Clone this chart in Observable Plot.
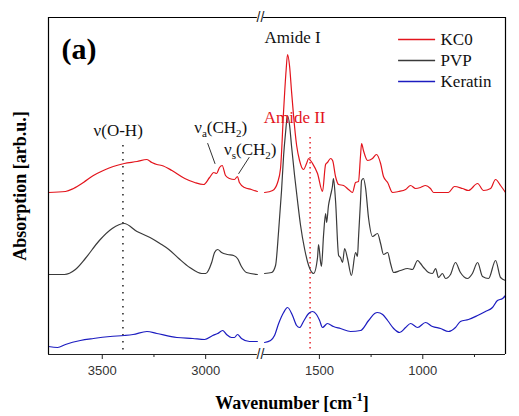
<!DOCTYPE html>
<html><head><meta charset="utf-8">
<script src="https://cdn.jsdelivr.net/npm/d3@7"></script>
<script src="https://cdn.jsdelivr.net/npm/@observablehq/plot@0.6"></script>
<style>body{margin:0;background:#fff}</style>
</head><body><div id="chart"></div>
<script>
// [wavenumber cm-1, absorption (arb. u.)]
const kc0 = [
[3760,162],[3678,163],[3639,166],[3591,172],[3543,179],[3495,184],[3447,188],[3394,191],[3332,193],[3284,195],[3260,192],[3236,190],[3212,189],[3163,184],[3101,176],[3053,172],[3010,170],[2981,177],[2961,182],[2947,181],[2933,187],[2920,189],[2904,179],[2885,176],[2861,175],[2846,178],[2837,172],[2812,167],[2779,165],[2750,163],
[1765,162],[1726,164],[1702,172],[1688,186],[1673,244],[1661,284],[1654,300],[1644,288],[1635,264],[1625,239],[1610,209],[1596,194],[1577,185],[1562,191],[1552,196],[1543,194],[1533,191],[1509,181],[1485,163],[1470,190],[1461,192],[1446,196],[1436,194],[1422,178],[1407,170],[1383,169],[1359,165],[1340,162],[1325,172],[1311,173],[1301,199],[1296,211],[1287,204],[1267,194],[1243,196],[1224,200],[1204,191],[1190,178],[1170,172],[1146,162],[1117,163],[1083,165],[1059,169],[1035,166],[1011,167],[987,169],[963,166],[948,162],[914,162],[876,162],[847,168],[808,166],[779,164],[735,171],[706,164],[672,166],[648,175],[624,169],[600,162]
];
const pvp = [
[3760,80],[3683,80],[3630,85],[3582,96],[3514,114],[3452,126],[3394,131],[3332,123],[3269,117],[3221,111],[3178,105],[3130,96],[3077,87],[3019,81],[3000,81],[2971,92],[2957,102],[2942,105],[2923,102],[2894,100],[2865,99],[2846,96],[2827,88],[2803,82],[2750,80],
[1765,81],[1731,82],[1712,89],[1697,124],[1683,164],[1673,199],[1664,221],[1654,239],[1644,229],[1635,209],[1620,179],[1606,154],[1591,129],[1572,106],[1552,89],[1528,81],[1509,97],[1504,110],[1494,92],[1490,88],[1480,119],[1470,141],[1465,132],[1456,149],[1446,159],[1437,168],[1432,176],[1422,154],[1407,99],[1398,97],[1388,92],[1378,106],[1364,96],[1345,79],[1325,102],[1316,98],[1311,116],[1301,154],[1296,174],[1287,176],[1277,167],[1262,136],[1243,118],[1219,121],[1204,111],[1190,100],[1170,102],[1156,91],[1141,82],[1108,84],[1074,86],[1050,85],[1025,94],[1011,91],[996,87],[972,82],[953,81],[938,86],[924,77],[905,81],[890,76],[866,80],[842,92],[818,82],[784,76],[760,81],[735,92],[711,78],[682,76],[648,94],[624,77],[600,74]
];
const keratin = [
[3760,8],[3716,7],[3678,10],[3606,14],[3543,16],[3462,18],[3394,19],[3351,20],[3284,23],[3236,21],[3139,17],[3062,16],[3005,15],[2966,19],[2942,21],[2918,24],[2899,20],[2875,17],[2861,17],[2846,20],[2827,16],[2788,13],[2750,13],
[1765,12],[1736,14],[1717,19],[1697,31],[1673,42],[1654,47],[1630,39],[1610,29],[1596,27],[1577,33],[1552,41],[1533,43],[1514,40],[1499,34],[1485,27],[1461,31],[1432,28],[1398,26],[1349,23],[1301,24],[1262,34],[1233,41],[1219,42],[1194,40],[1170,34],[1141,26],[1112,22],[1083,27],[1059,31],[1025,27],[987,32],[953,28],[914,26],[876,23],[842,27],[818,33],[779,35],[735,39],[697,43],[663,47],[639,54],[614,56],[600,59]
];
const seriesNames = ["KC0", "PVP", "Keratin"];
const seriesColors = ["#e3141c", "#3a3a3a", "#1c1cc0"];
const majorTicks = [3500, 3000, 1500, 1000];
const minorTicks = [3250, 1250, 750];
// broken axis: high-wavenumber segment 3760–2750, low-wavenumber segment 1770–600
const hiSeg = [3760, 2750], loSeg = [1770, 600], gapUnits = 30;
const yMax = 337;

// fold the two wavenumber segments onto one continuous coordinate
const pos = w => w > 2000 ? hiSeg[0] - w : (hiSeg[0] - hiSeg[1]) + gapUnits + (loSeg[0] - w);
const xMax = pos(loSeg[1]);
const breakPos = (hiSeg[0] - hiSeg[1]) + gapUnits / 2;

const rows = [];
[kc0, pvp, keratin].forEach((arr, i) => arr.forEach(([wn, abs]) =>
  rows.push({series: seriesNames[i], seg: wn > 2000 ? "hi" : "lo", x: pos(wn), abs})));

const frameSegs = [hiSeg, loSeg].map(([a, b]) => ({x1: pos(a), x2: pos(b)}));
const ohGuide = [{wn: 3400, from: 209, to: 4}];
const amideGuide = [{wn: 1545, from: 217, to: 4}];
const labels = [
  {text: "ν(O-H)", wn: 3423, abs: 219, anchor: "middle", color: "#111"},
  {text: "Amide I", wn: 1630, abs: 312, anchor: "middle", color: "#111"},
  {text: "Amide II", wn: 1620, abs: 232, anchor: "start", color: "#e3141c"}
];
const arrows = [
  {w1: 2990, y1: 211, w2: 2955, y2: 191, bend: -60},
  {w1: 2790, y1: 197, w2: 2840, y2: 181, bend: 60}
];
const legendItems = seriesNames.map((s, i) => ({s, w1: 1117, w2: 938, tw: 914, y: [315, 294, 273][i]}));
const tickLabel = new Map(majorTicks.map(t => [pos(t), String(t)]));

const plot = Plot.plot({
  width: 519, height: 416,
  marginTop: 17, marginBottom: 62, marginLeft: 48, marginRight: 14,
  style: {background: "#fff", color: "#111", fontFamily: "Liberation Sans"},
  x: {domain: [0, xMax]},
  y: {domain: [0, yMax], axis: null},
  color: {domain: seriesNames, range: seriesColors},
  marks: [
    Plot.ruleX(ohGuide, {x: d => pos(d.wn), y1: "from", y2: "to", stroke: "#111", strokeWidth: 1.4, strokeDasharray: "1.5,5.5"}),
    Plot.ruleX(amideGuide, {x: d => pos(d.wn), y1: "from", y2: "to", stroke: "#e3141c", strokeWidth: 1.4, strokeDasharray: "1.5,3.5"}),
    Plot.line(rows, {x: "x", y: "abs", z: d => d.series + d.seg, stroke: "series", strokeWidth: 1.2, curve: "monotone-x"}),
    Plot.ruleY(frameSegs, {x1: "x1", x2: "x2", y: () => yMax, stroke: "#000", strokeWidth: 1.2}),
    Plot.ruleY(frameSegs, {x1: "x1", x2: "x2", y: () => 0, stroke: "#222", strokeWidth: 1.2}),
    Plot.ruleX([0, xMax], {y1: 0, y2: yMax, stroke: "#000", strokeWidth: 1.2}),
    Plot.text(["//"], {x: () => breakPos, y: () => yMax, fontSize: 14, fill: "#222"}),
    Plot.text(["//"], {x: () => breakPos, y: () => 0, fontSize: 14, fill: "#222"}),
    Plot.axisX({ticks: majorTicks.map(pos), tickFormat: p => tickLabel.get(p), tickSize: 5, tickPadding: 6, fontSize: 13, label: null, stroke: "#222", fill: "#333"}),
    Plot.axisX({ticks: minorTicks.map(pos), tickSize: 3, tickFormat: () => "", label: null, stroke: "#222"}),
    Plot.text(labels, {x: d => pos(d.wn), y: "abs", text: "text", textAnchor: "anchor", fill: "color", lineAnchor: "bottom", fontSize: 17, fontFamily: "Liberation Serif"}),
    Plot.arrow(arrows, {x1: d => pos(d.w1), y1: "y1", x2: d => pos(d.w2), y2: "y2", bend: "bend", stroke: "#333", strokeWidth: 1, headLength: 7, headAngle: 50}),
    Plot.ruleY(legendItems, {x1: d => pos(d.w1), x2: d => pos(d.w2), y: "y", stroke: "s", strokeWidth: 1.3}),
    Plot.text(legendItems, {x: d => pos(d.tw), y: "y", text: "s", textAnchor: "start", fontSize: 17, fontFamily: "Liberation Serif", fill: "#111"}),
    Plot.text(["(a)"], {x: () => pos(3697), y: () => 296, textAnchor: "start", lineAnchor: "bottom", fontSize: 30, fontWeight: "bold", fontFamily: "Liberation Serif", fill: "#000"}),
    Plot.text(["Absorption [arb.u.]"], {frameAnchor: "left", dx: -23, rotate: -90, textAnchor: "middle", lineAnchor: "bottom", fontSize: 18, fontWeight: "bold", fontFamily: "Liberation Serif", fill: "#000"})
  ]
});
document.getElementById("chart").appendChild(plot);

const sx = plot.scale("x"), sy = plot.scale("y");
const svg = d3.select(plot);
function richText(parts, x, y, opts) {
  const t = svg.append("text").attr("x", x).attr("y", y)
    .attr("font-family", "Liberation Serif").attr("font-size", opts.size)
    .attr("font-weight", opts.weight || "normal").attr("fill", opts.fill || "#111")
    .attr("text-anchor", opts.anchor || "start");
  parts.forEach(([s, kind]) => {
    const ts = t.append("tspan").text(s);
    if (kind === "sub") ts.attr("font-size", opts.size * 0.65).attr("dy", opts.size * 0.25);
    if (kind === "sup") ts.attr("font-size", opts.size * 0.7).attr("dy", -opts.size * 0.42);
    if (kind === "back-sub") ts.attr("dy", -opts.size * 0.25);
    if (kind === "back-sup") ts.attr("dy", opts.size * 0.42);
  });
}
richText([["ν"], ["a", "sub"], ["(CH", "back-sub"], ["2", "sub"], [")", "back-sub"]], sx.apply(pos(3053)), sy.apply(221), {size: 17});
richText([["ν"], ["s", "sub"], ["(CH", "back-sub"], ["2", "sub"], [")", "back-sub"]], sx.apply(pos(2909)), sy.apply(199), {size: 17});
richText([["Wavenumber [cm"], ["-1", "sup"], ["]", "back-sup"]], 292, 409, {size: 18, weight: "bold", anchor: "middle", fill: "#000"});
</script>
</body></html>
